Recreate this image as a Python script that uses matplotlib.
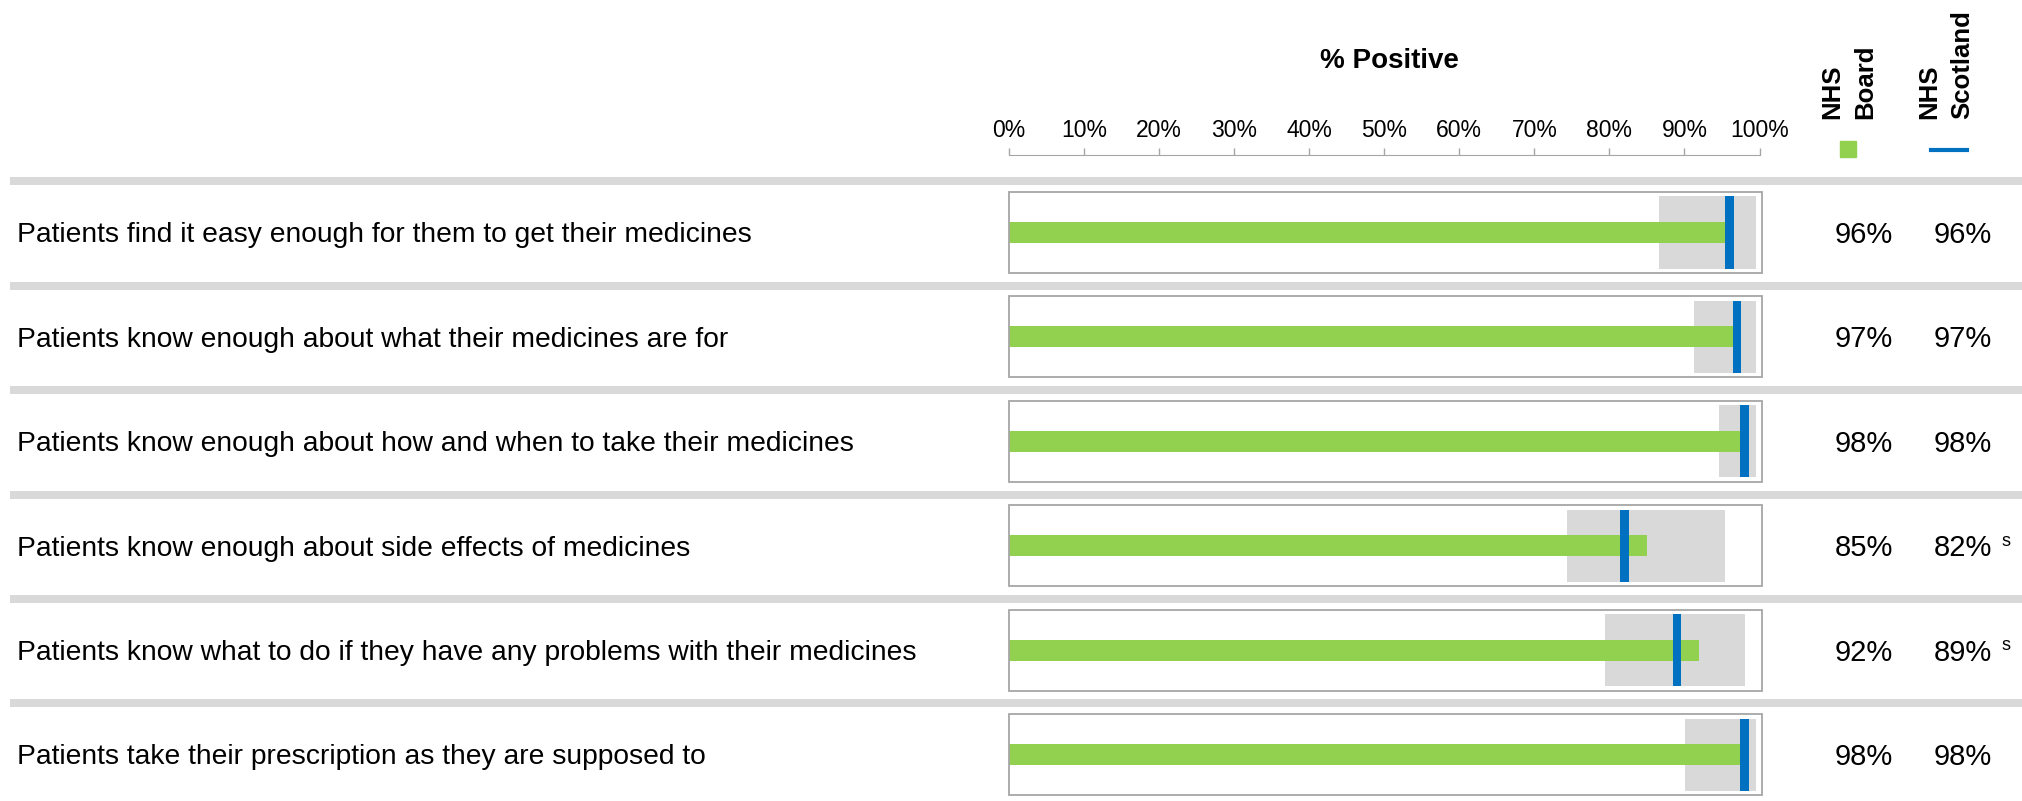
import matplotlib.pyplot as plt
from matplotlib.patches import Rectangle
from matplotlib.lines import Line2D
from matplotlib.transforms import blended_transform_factory

plt.rcParams["font.family"] = ["Liberation Sans", "DejaVu Sans"]

questions = [
    "Patients find it easy enough for them to get their medicines",
    "Patients know enough about what their medicines are for",
    "Patients know enough about how and when to take their medicines",
    "Patients know enough about side effects of medicines",
    "Patients know what to do if they have any problems with their medicines",
    "Patients take their prescription as they are supposed to",
]
board = [96, 97, 98, 85, 92, 98]
scotland = [96, 97, 98, 82, 89, 98]
range_low = [86.6, 91.3, 94.6, 74.3, 79.4, 90.1]
range_high = [99.5, 99.5, 99.5, 95.4, 98.1, 99.5]
significant = ["", "", "", "s", "s", ""]
ticks = list(range(0, 101, 10))

GREEN = "#92d050"
BLUE = "#0070c0"
LIGHT = "#d9d9d9"
EDGE = "#a6a6a6"

W, H = 2022, 801
fig = plt.figure(figsize=(W / 100, H / 100), dpi=100)
ax = fig.add_axes([1009 / W, 0, 750.5 / W, (H - 180.3) / H])
mixed = blended_transform_factory(fig.transFigure, ax.transData)

rows = list(range(len(questions)))
spans = [h - l for l, h in zip(range_low, range_high)]
ax.barh(rows, spans, left=range_low, height=0.69, color=LIGHT, zorder=1)
ax.barh(rows, board, height=0.2, color=GREEN, zorder=2)
ax.barh(rows, 1.1, left=[s - 0.55 for s in scotland], height=0.69, color=BLUE, zorder=3)

for i in rows:
    ax.add_patch(Rectangle((0, i - 0.388), 100.33, 0.776, fill=False, ec=EDGE,
                           lw=1.3, clip_on=False, zorder=4))
    ax.add_patch(Rectangle((10 / W, i - 0.528), 1 - 10 / W, 0.077, transform=mixed,
                           color=LIGHT, lw=0, clip_on=False, zorder=0))
    ax.text(17 / W, i + 0.094, questions[i], transform=mixed, fontsize=20.3,
            ha="left", va="baseline")
    ax.text(1864 / W, i + 0.1, f"{board[i]}%", transform=mixed, fontsize=21,
            ha="center", va="baseline")
    ax.text(1963 / W, i + 0.1, f"{scotland[i]}%", transform=mixed, fontsize=21,
            ha="center", va="baseline")
    if significant[i]:
        ax.text(2002 / W, i, significant[i], transform=mixed, fontsize=13,
                ha="left", va="baseline")

ax.set_xlim(0, 100)
ax.set_ylim(5.445, -0.5)
for side in ax.spines.values():
    side.set_visible(False)
ax.set_xticks([])
ax.set_yticks([])
ax.patch.set_alpha(0)

top = ax.secondary_xaxis(1 + 25.3 / (H - 180.3))
top.set_xticks(ticks)
top.set_xticklabels([f"{t}%" for t in ticks])
top.tick_params(direction="out", length=5, width=1, color=EDGE, labelsize=16.5, pad=4)
top.spines["top"].set_color(EDGE)

fig.text(1389 / W, 1 - 60.5 / H, "% Positive", fontsize=20, fontweight="bold",
         ha="center", va="center")
fig.text(1849 / W, 1 - 119 / H, "NHS\nBoard", rotation=90, fontsize=18.5,
         fontweight="bold", ha="center", va="bottom", multialignment="left",
         linespacing=1.45)
fig.text(1946 / W, 1 - 119 / H, "NHS\nScotland", rotation=90, fontsize=18.5,
         fontweight="bold", ha="center", va="bottom", multialignment="left",
         linespacing=1.45)

# legend keys
fig.patches.append(Rectangle((1840 / W, 1 - 157 / H), 16 / W, 16 / H,
                             transform=fig.transFigure, color=GREEN))
fig.lines.append(Line2D([1931 / W, 1967 / W], [1 - 150 / H, 1 - 150 / H],
                        transform=fig.transFigure, color=BLUE, lw=3))

fig.savefig("out.png", dpi=100)
